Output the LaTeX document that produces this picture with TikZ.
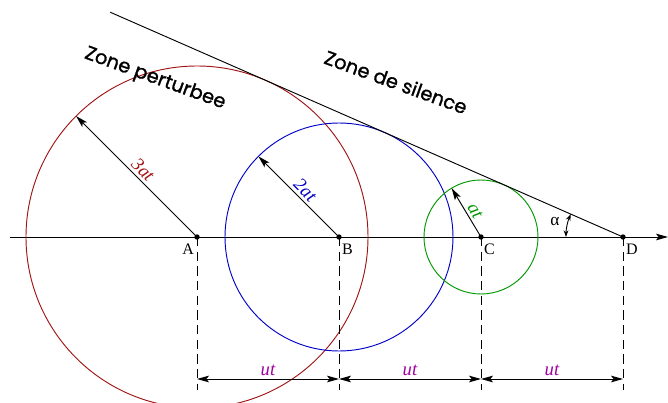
\documentclass[tikz,border=0pt]{standalone}
\usepackage{fontspec}
\setmainfont{Liberation Serif}
\newfontfamily\zonefont[FakeBold=1.2]{Poppins}
\usepackage{xcolor}
\usetikzlibrary{arrows.meta,calc,positioning}
\definecolor{wavered}{RGB}{160,20,20}
\definecolor{waveblue}{RGB}{0,0,200}
\definecolor{wavegreen}{RGB}{0,150,0}
\definecolor{distpurple}{RGB}{160,0,160}

\begin{document}
\begin{tikzpicture}[x=0.75pt, y=0.75pt, line width=0.7pt,
    >={Stealth[length=9pt,width=5pt,inset=2pt]},
    ptlabel/.style={font=\fontsize{12}{14}\selectfont, inner sep=2pt, yshift=-3pt},
    rlabel/.style={font=\fontsize{14}{16}\selectfont\itshape, inner sep=2pt},
    zone/.style={font=\zonefont\fontsize{14.5}{16}\selectfont, rotate=-20},
    guide/.style={dash pattern=on 7pt off 4pt}]
    \useasboundingbox (-197,-166) rectangle (471,237);
    % points on the axis
    \coordinate (A) at (0,0);
    \coordinate (B) at (142,0);
    \coordinate (C) at (284,0);
    \coordinate (D) at (426,0);
    \coordinate (xl) at (-187,0);
    \coordinate (xr) at (471,0);
    \draw[->] (xl) -- (xr);
    % wave fronts
    \draw[wavered] (A) circle[radius=171];
    \draw[waveblue] (B) circle[radius=114];
    \draw[wavegreen] (C) circle[radius=57];
    % tangent line
    \coordinate (T) at ($(D)+(156.33:560)$);
    \draw (D) -- (T);
    % radii
    \coordinate (rA) at ($(A)+(135:171)$);
    \coordinate (rB) at ($(B)+(135:114)$);
    \coordinate (rC) at ($(C)+(121:57)$);
    \draw[->] (A) -- (rA) node[midway, sloped, above, rlabel, text=wavered] (l3) {3at};
    \draw[->] (B) -- (rB) node[midway, sloped, above, rlabel, text=waveblue] (l2) {2at};
    \draw[->] (C) -- (rC) node[pos=0.45, sloped, above, rlabel, text=wavegreen] (l1) {at};
    \fill (A) circle (2.7);
    \fill (B) circle (2.7);
    \fill (C) circle (2.7);
    \fill (D) circle (2.7);
    \node[ptlabel, below left] (nA) at (A) {A};
    \node[ptlabel, below right] (nB) at (B) {B};
    \node[ptlabel, below right] (nC) at (C) {C};
    \node[ptlabel, below right] (nD) at (D) {D};
    % angle
    \coordinate (a1) at ($(D)+(180:57)$);
    \draw[<->, >={Stealth[length=5pt,width=3.5pt]}] (a1) arc[start angle=180, end angle=156.33, radius=57];
    \node[font=\fontsize{13}{15}\selectfont] (alpha) at ($(D)+(167:70)$) {α};
    % distances
    \coordinate (A1) at (0,-153);
    \coordinate (B1) at (142,-153);
    \coordinate (C1) at (284,-153);
    \coordinate (D1) at (426,-153);
    \draw[guide] (A) -- (A1);
    \draw[guide] (B) -- (B1);
    \draw[guide] (C) -- (C1);
    \draw[guide] (D) -- (D1);
    \coordinate (A2) at (0,-142);
    \coordinate (B2) at (142,-142);
    \coordinate (C2) at (284,-142);
    \coordinate (D2) at (426,-142);
    \draw[<->] (A2) -- (B2) node[midway, above, rlabel, text=distpurple] (u1) {ut};
    \draw[<->] (B2) -- (C2) node[midway, above, rlabel, text=distpurple] (u2) {ut};
    \draw[<->] (C2) -- (D2) node[midway, above, rlabel, text=distpurple] (u3) {ut};
    % zones
    \node[zone] (zp) at (-42,158) {Zone perturbee};
    \node[zone] (zs) at (199,155) {Zone de silence};
\end{tikzpicture}
\end{document}
